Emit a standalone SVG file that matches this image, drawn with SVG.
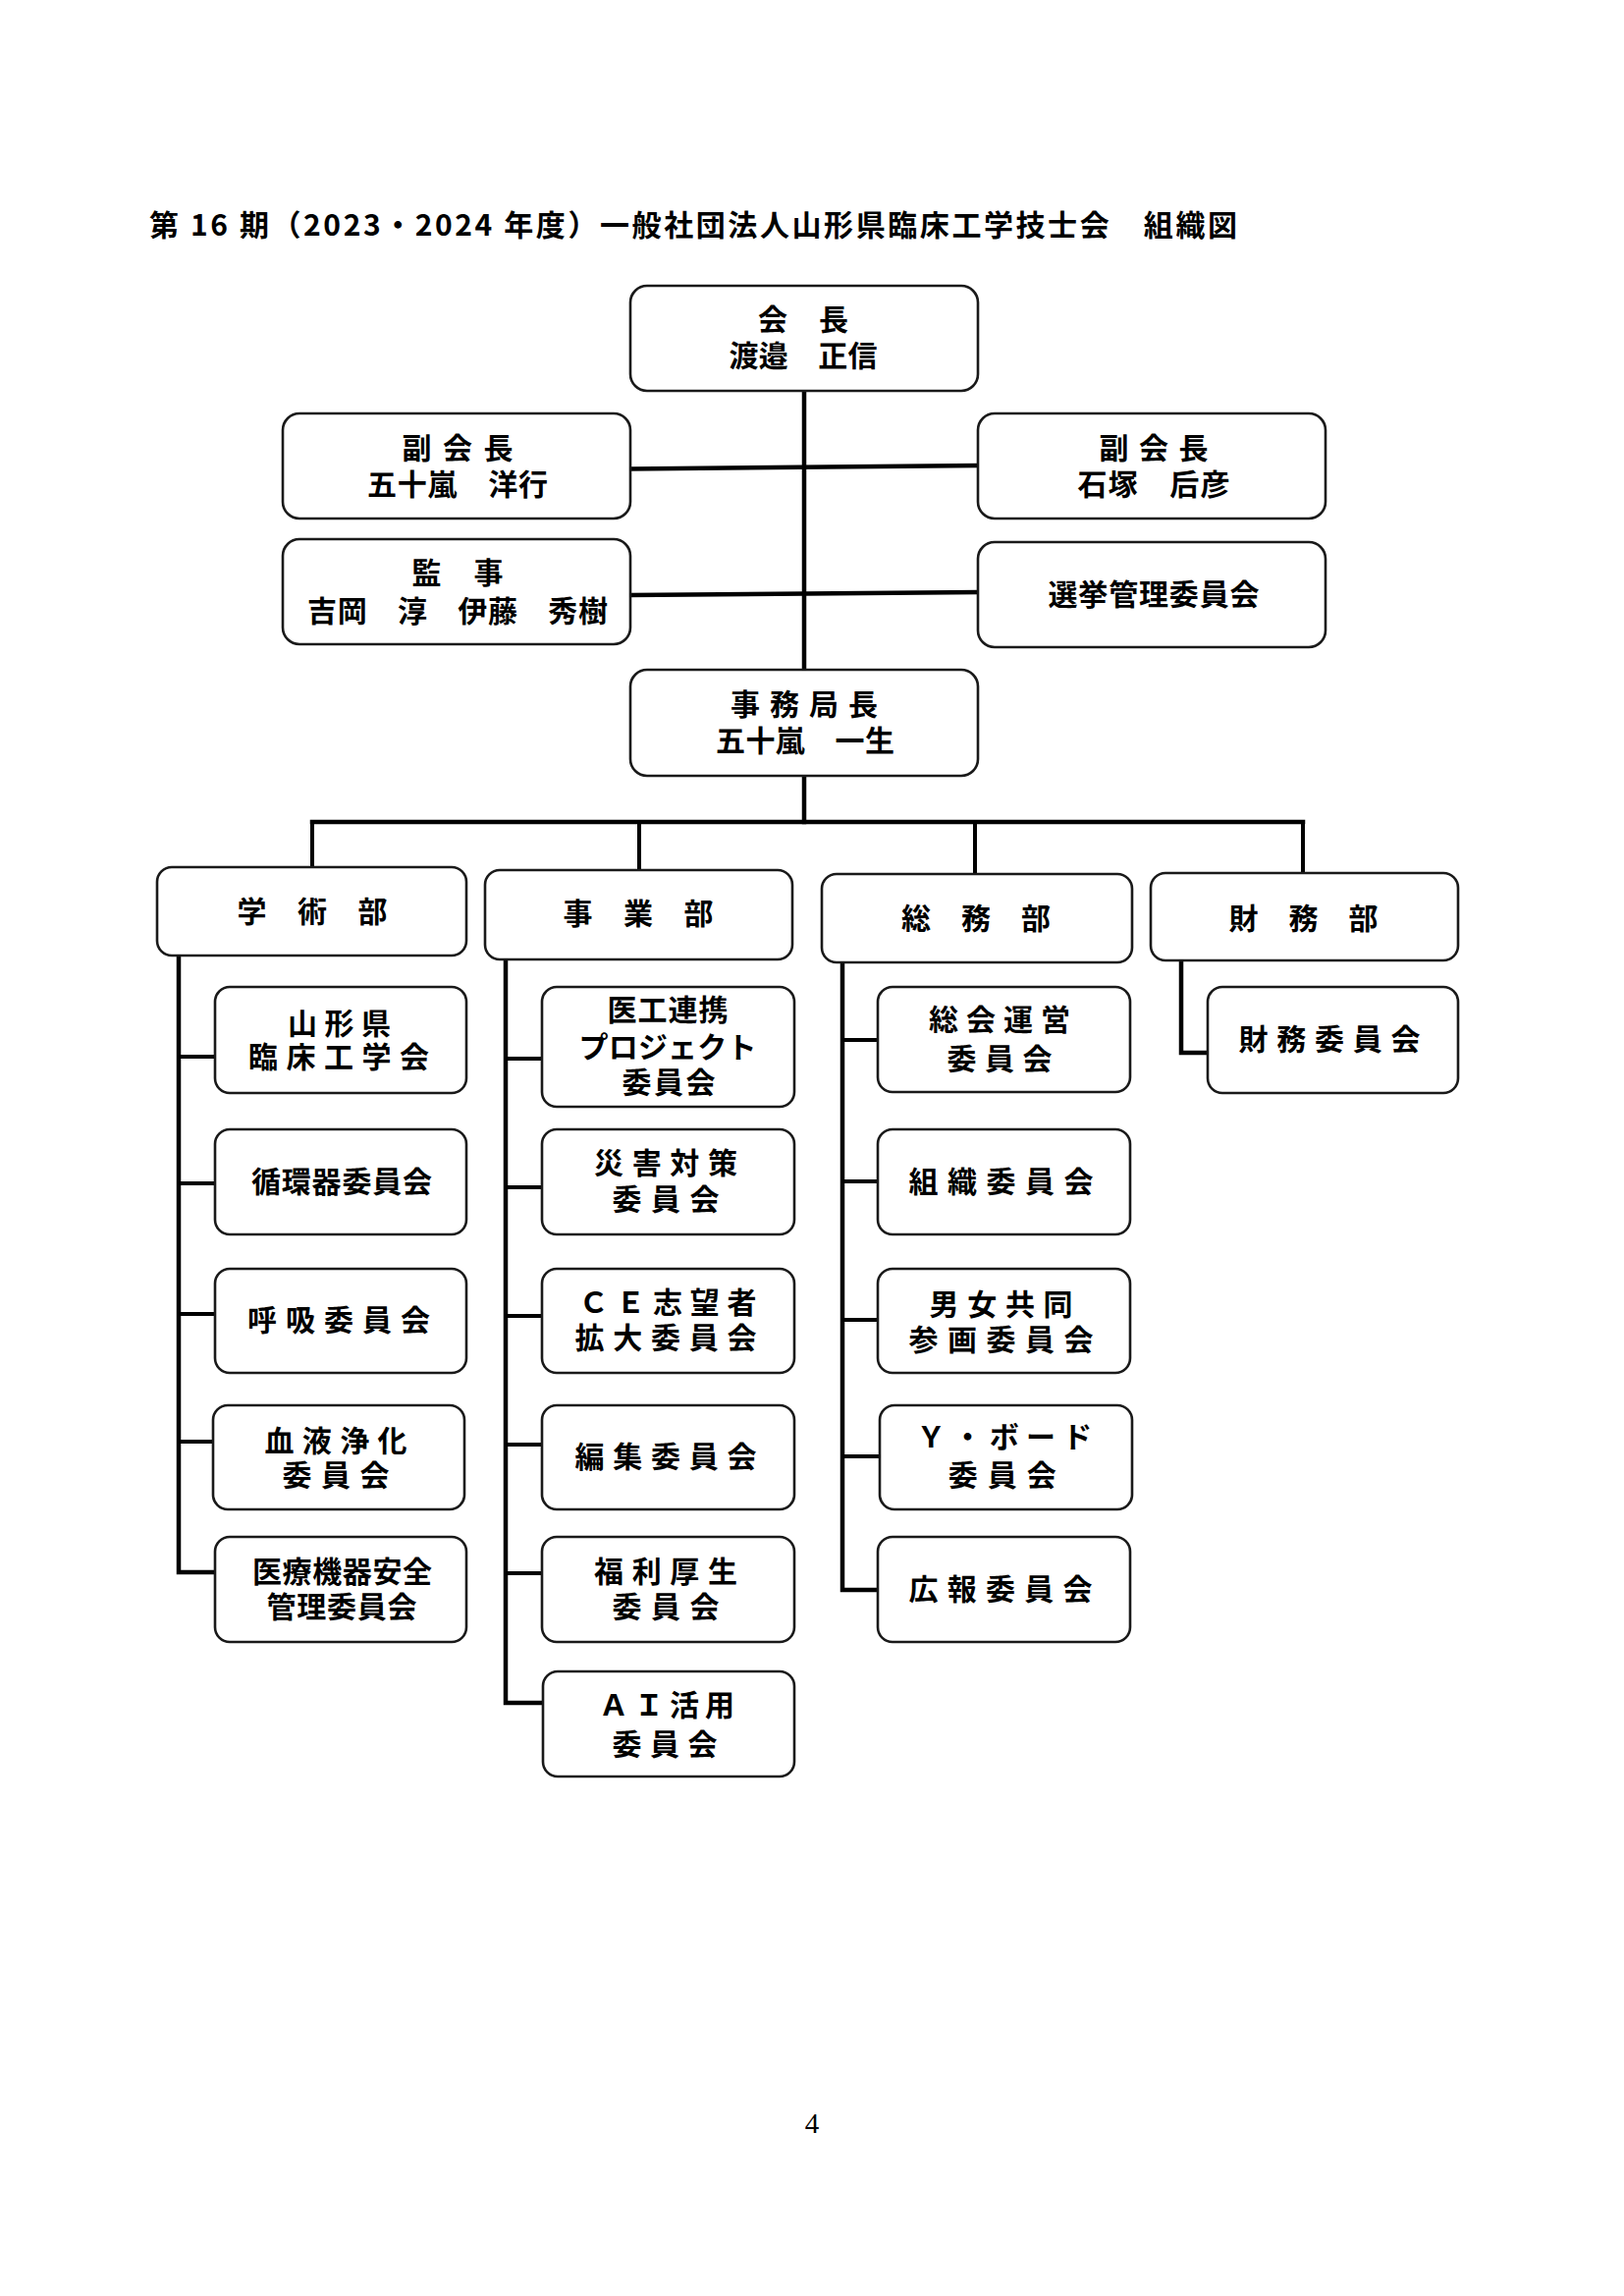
<svg xmlns="http://www.w3.org/2000/svg" width="1654" height="2338" viewBox="0 0 1654 2338">
<style>
.bg{fill:#fff}
.box{fill:#fff;stroke:#1a1a1a;stroke-width:2.6}
.t{font-family:"Noto Sans CJK JP","Noto Sans CJK SC",sans-serif;font-weight:700;font-size:30px;text-anchor:middle;fill:#000}
.ttl{font-family:"Noto Sans CJK JP","Noto Sans CJK SC",sans-serif;font-weight:700;font-size:30px;fill:#000}
.pg{font-family:"Liberation Serif",serif;font-size:29px;text-anchor:middle;fill:#000}
.ln{stroke:#000;fill:none;stroke-width:4.5;stroke-linejoin:miter;stroke-linecap:square}
.br{stroke:#000;fill:none;stroke-width:4;stroke-linecap:butt}
</style>
<rect class="bg" x="0" y="0" width="1654" height="2338"/>
<text class="ttl" x="152" y="240" textLength="1108" lengthAdjust="spacing">第 16 期（2023・2024 年度）一般社団法人山形県臨床工学技士会　組織図</text>

<g id="connectors">
<path class="ln" d="M819 398 V682"/>
<path class="ln" d="M642 477.5 L996 474"/>
<path class="ln" d="M642 606 L996 603"/>
<path class="ln" d="M819 790 V837"/>
<path class="ln" d="M318 837 H1327"/>
<path class="br" d="M318 837 V883 M651 837 V886 M993 837 V890 M1327 837 V889"/>
<path class="ln" d="M182 973 V1601 H219"/>
<path class="br" d="M182 1076 H219 M182 1205 H219 M182 1338 H219 M182 1468 H217"/>
<path class="ln" d="M515 977 V1734 H553"/>
<path class="br" d="M515 1078 H552 M515 1209 H552 M515 1340 H552 M515 1471 H552 M515 1602 H552"/>
<path class="ln" d="M858 980 V1619 H894"/>
<path class="br" d="M858 1059 H894 M858 1203 H894 M858 1344 H894 M858 1483 H896"/>
<path class="ln" d="M1203 978 V1072 H1230"/>
</g>

<g id="kaicho"><rect class="box" x="642" y="291" width="354" height="107" rx="17"/>
<text class="t" x="818" y="336" textLength="92" lengthAdjust="spacing">会　長</text>
<text class="t" x="818" y="373" textLength="151" lengthAdjust="spacing">渡邉　正信</text></g>

<g id="fukukaicho1"><rect class="box" x="288" y="421" width="354" height="107" rx="17"/>
<text class="t" x="466" y="467" textLength="113" lengthAdjust="spacing">副会長</text>
<text class="t" x="466" y="504" textLength="184" lengthAdjust="spacing">五十嵐　洋行</text></g>

<g id="fukukaicho2"><rect class="box" x="996" y="421" width="354" height="107" rx="17"/>
<text class="t" x="1175" y="467" textLength="111" lengthAdjust="spacing">副会長</text>
<text class="t" x="1175" y="504" textLength="155" lengthAdjust="spacing">石塚　后彦</text></g>

<g id="kanji"><rect class="box" x="288" y="549" width="354" height="107" rx="17"/>
<text class="t" x="466" y="594" textLength="93" lengthAdjust="spacing">監　事</text>
<text class="t" x="466" y="633" textLength="306" lengthAdjust="spacing">吉岡　淳　伊藤　秀樹</text></g>

<g id="senkyo"><rect class="box" x="996" y="552" width="354" height="107" rx="17"/>
<text class="t" x="1175" y="616" textLength="215" lengthAdjust="spacing">選挙管理委員会</text></g>

<g id="jimukyokucho"><rect class="box" x="642" y="682" width="354" height="108" rx="17"/>
<text class="t" x="819" y="728" textLength="150" lengthAdjust="spacing">事務局長</text>
<text class="t" x="820" y="765" textLength="182" lengthAdjust="spacing">五十嵐　一生</text></g>

<g id="gakujutsubu"><rect class="box" x="160" y="883" width="315" height="90" rx="15"/>
<text class="t" x="318" y="938.5" textLength="153" lengthAdjust="spacing">学　術　部</text></g>

<g id="jigyobu"><rect class="box" x="494" y="886" width="313" height="91" rx="15"/>
<text class="t" x="650" y="941" textLength="153" lengthAdjust="spacing">事　業　部</text></g>

<g id="somubu"><rect class="box" x="837" y="890" width="316" height="90" rx="15"/>
<text class="t" x="994" y="946" textLength="152" lengthAdjust="spacing">総　務　部</text></g>

<g id="zaimubu"><rect class="box" x="1172" y="889" width="313" height="89" rx="15"/>
<text class="t" x="1327.5" y="945.5" textLength="152" lengthAdjust="spacing">財　務　部</text></g>

<g id="yamagata"><rect class="box" x="219" y="1005" width="256" height="108" rx="15"/>
<text class="t" x="345.5" y="1053" textLength="105" lengthAdjust="spacing">山形県</text>
<text class="t" x="345" y="1087" textLength="184" lengthAdjust="spacing">臨床工学会</text></g>

<g id="junkanki"><rect class="box" x="219" y="1150" width="256" height="107" rx="15"/>
<text class="t" x="348" y="1214" textLength="184" lengthAdjust="spacing">循環器委員会</text></g>

<g id="kokyu"><rect class="box" x="219" y="1292" width="256" height="106" rx="15"/>
<text class="t" x="345" y="1355" textLength="186" lengthAdjust="spacing">呼吸委員会</text></g>

<g id="ketsueki"><rect class="box" x="217" y="1431" width="256" height="106" rx="15"/>
<text class="t" x="342" y="1478" textLength="145" lengthAdjust="spacing">血液浄化</text>
<text class="t" x="342" y="1513" textLength="109" lengthAdjust="spacing">委員会</text></g>

<g id="iryokiki"><rect class="box" x="219" y="1565" width="256" height="107" rx="15"/>
<text class="t" x="348.5" y="1611" textLength="183" lengthAdjust="spacing">医療機器安全</text>
<text class="t" x="348" y="1647" textLength="153" lengthAdjust="spacing">管理委員会</text></g>

<g id="ikorenkei"><rect class="box" x="552" y="1005" width="257" height="122" rx="15"/>
<text class="t" x="680" y="1039" textLength="123" lengthAdjust="spacing">医工連携</text>
<text class="t" x="680" y="1077" textLength="181" lengthAdjust="spacing">プロジェクト</text>
<text class="t" x="681" y="1113" textLength="95" lengthAdjust="spacing">委員会</text></g>

<g id="saigai"><rect class="box" x="552" y="1150" width="257" height="107" rx="15"/>
<text class="t" x="678" y="1195" textLength="146" lengthAdjust="spacing">災害対策</text>
<text class="t" x="678" y="1232" textLength="109" lengthAdjust="spacing">委員会</text></g>

<g id="ce"><rect class="box" x="552" y="1292" width="257" height="106" rx="15"/>
<text class="t" x="680" y="1337" textLength="181" lengthAdjust="spacing">ＣＥ志望者</text>
<text class="t" x="678" y="1373" textLength="185" lengthAdjust="spacing">拡大委員会</text></g>

<g id="henshu"><rect class="box" x="552" y="1431" width="257" height="106" rx="15"/>
<text class="t" x="678" y="1494" textLength="185" lengthAdjust="spacing">編集委員会</text></g>

<g id="fukuri"><rect class="box" x="552" y="1565" width="257" height="107" rx="15"/>
<text class="t" x="678" y="1611" textLength="146" lengthAdjust="spacing">福利厚生</text>
<text class="t" x="678" y="1647" textLength="109" lengthAdjust="spacing">委員会</text></g>

<g id="ai"><rect class="box" x="553" y="1702" width="256" height="107" rx="15"/>
<text class="t" x="679" y="1747" textLength="138" lengthAdjust="spacing">ＡＩ活用</text>
<text class="t" x="677" y="1787" textLength="107" lengthAdjust="spacing">委員会</text></g>

<g id="sokai"><rect class="box" x="894" y="1005" width="257" height="107" rx="15"/>
<text class="t" x="1018" y="1049" textLength="144" lengthAdjust="spacing">総会運営</text>
<text class="t" x="1018" y="1089" textLength="107" lengthAdjust="spacing">委員会</text></g>

<g id="soshiki"><rect class="box" x="894" y="1150" width="257" height="107" rx="15"/>
<text class="t" x="1019.6" y="1214" textLength="188" lengthAdjust="spacing">組織委員会</text></g>

<g id="danjo"><rect class="box" x="894" y="1292" width="257" height="106" rx="15"/>
<text class="t" x="1019.6" y="1339" textLength="146" lengthAdjust="spacing">男女共同</text>
<text class="t" x="1019.6" y="1375" textLength="188" lengthAdjust="spacing">参画委員会</text></g>

<g id="yboard"><rect class="box" x="896" y="1431" width="257" height="106" rx="15"/>
<text class="t" x="1022.7" y="1474" textLength="179" lengthAdjust="spacing">Ｙ・ボード</text>
<text class="t" x="1020.7" y="1513" textLength="110" lengthAdjust="spacing">委員会</text></g>

<g id="koho"><rect class="box" x="894" y="1565" width="257" height="107" rx="15"/>
<text class="t" x="1019" y="1629" textLength="187" lengthAdjust="spacing">広報委員会</text></g>

<g id="zaimuiinkai"><rect class="box" x="1230" y="1005" width="255" height="108" rx="15"/>
<text class="t" x="1354" y="1069" textLength="185" lengthAdjust="spacing">財務委員会</text></g>

<text class="pg" x="827" y="2172">4</text>
</svg>
